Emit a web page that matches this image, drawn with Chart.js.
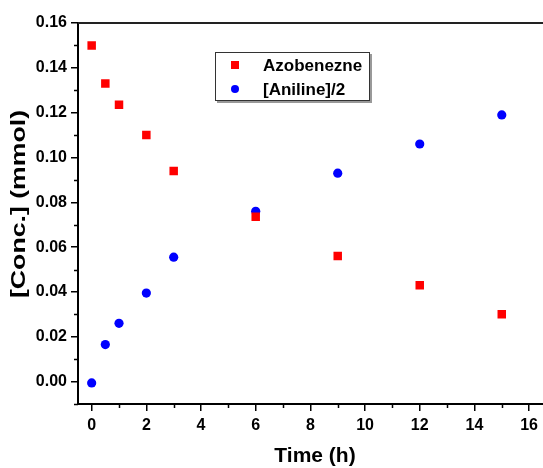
<!DOCTYPE html>
<html>
<head>
<meta charset="utf-8">
<script src="https://cdn.jsdelivr.net/npm/chart.js@4.4.0/dist/chart.umd.min.js"></script>
<style>
html,body{margin:0;padding:0;background:#fff;overflow:hidden;}
#wrap{width:543px;height:468px;position:relative;}
canvas{display:block;}
</style>
</head>
<body>
<div id="wrap"><canvas id="c" width="543" height="468"></canvas></div>
<script>
const timeH = [0, 0.5, 1, 2, 3, 6, 9, 12, 15];
const azobenzene = [0.150, 0.133, 0.1235, 0.110, 0.094, 0.0735, 0.056, 0.043, 0.030];
const aniline2 = [-0.0006, 0.0165, 0.026, 0.0395, 0.0555, 0.076, 0.093, 0.106, 0.119];
const xTicks = [0, 2, 4, 6, 8, 10, 12, 14, 16];
const yTicks = [0, 0.02, 0.04, 0.06, 0.08, 0.10, 0.12, 0.14, 0.16];
const seriesNames = ['Azobenezne', '[Aniline]/2'];
const xTitle = 'Time (h)';
const yTitle = '[Conc.] (mmol)';

const FONT = '"Liberation Sans", Arial, sans-serif';

const extras = {
  id: 'extras',
  afterDraw(chart) {
    const ctx = chart.ctx;
    const xs = chart.scales.x, ys = chart.scales.y;
    const a = chart.chartArea;
    ctx.save();
    // top frame line
    ctx.strokeStyle = '#222';
    ctx.lineWidth = 2;
    ctx.beginPath();
    ctx.moveTo(a.left, a.top);
    ctx.lineTo(543, a.top);
    ctx.stroke();
    // minor ticks
    ctx.strokeStyle = '#000';
    ctx.lineWidth = 1.5;
    ctx.beginPath();
    for (let v = 1; v <= 15; v += 2) {
      const px = Math.round(xs.getPixelForValue(v)) + 0.5;
      ctx.moveTo(px, a.bottom);
      ctx.lineTo(px, a.bottom + 4);
    }
    for (let k = -1; k <= 15; k += 2) {
      const py = Math.round(ys.getPixelForValue(k / 100)) + 0.5;
      ctx.moveTo(a.left, py);
      ctx.lineTo(a.left - 4, py);
    }
    ctx.stroke();
    // y title (stretched along its length)
    ctx.fillStyle = '#000';
    ctx.font = 'bold 21px ' + FONT;
    ctx.textAlign = 'center';
    ctx.textBaseline = 'middle';
    ctx.translate(19, 204);
    ctx.rotate(-Math.PI / 2);
    const w = ctx.measureText(yTitle).width;
    ctx.scale(188 / w, 1);
    ctx.fillText(yTitle, 0, 0);
    ctx.restore();

    // x title
    ctx.save();
    ctx.fillStyle = '#000';
    ctx.font = 'bold 21px ' + FONT;
    ctx.textAlign = 'center';
    ctx.textBaseline = 'middle';
    ctx.fillText(xTitle, 315, 456);
    ctx.restore();

    // legend
    ctx.save();
    const bx = 215, by = 52, bw = 155, bh = 49;
    ctx.fillStyle = '#999';
    ctx.fillRect(bx + 2, by + 2, bw, bh);
    ctx.fillStyle = '#fff';
    ctx.fillRect(bx, by, bw, bh);
    ctx.strokeStyle = '#333';
    ctx.lineWidth = 1;
    ctx.strokeRect(bx + 0.5, by + 0.5, bw - 1, bh - 1);
    const ds = chart.data.datasets;
    const rows = [65, 89];
    ds.forEach((d, i) => {
      const cy = rows[i];
      ctx.fillStyle = d.backgroundColor;
      if (d.pointStyle === 'rect') {
        ctx.fillRect(235 - 4, cy - 4, 8, 8);
      } else {
        ctx.beginPath();
        ctx.arc(235, cy, 4, 0, Math.PI * 2);
        ctx.fill();
      }
      ctx.fillStyle = '#000';
      ctx.font = 'bold 17px ' + FONT;
      ctx.textAlign = 'left';
      ctx.textBaseline = 'middle';
      ctx.fillText(d.label, 263, cy + 1);
    });
    ctx.restore();
  }
};

new Chart(document.getElementById('c'), {
  type: 'scatter',
  data: {
    datasets: [
      {
        label: seriesNames[0],
        data: timeH.map((t, i) => ({x: t, y: azobenzene[i]})),
        pointStyle: 'rect',
        pointRadius: 6,
        pointHoverRadius: 6,
        backgroundColor: '#ff0000',
        borderColor: '#ff0000',
        borderWidth: 0
      },
      {
        label: seriesNames[1],
        data: timeH.map((t, i) => ({x: t, y: aniline2[i]})),
        pointStyle: 'circle',
        pointRadius: 4.6,
        pointHoverRadius: 4.6,
        backgroundColor: '#0000ff',
        borderColor: '#0000ff',
        borderWidth: 0
      }
    ]
  },
  options: {
    responsive: false,
    animation: false,
    devicePixelRatio: 1,
    layout: {autoPadding: false, padding: {top: 23, right: 0, left: 0, bottom: 0}},
    plugins: {legend: {display: false}, tooltip: {enabled: false}},
    scales: {
      x: {
        type: 'linear',
        min: -0.5,
        max: 16.5,
        afterBuildTicks(s) { s.ticks = xTicks.map(v => ({value: v})); },
        afterFit(s) { s.height = 64; },
        border: {display: true, color: '#000', width: 2},
        grid: {display: true, drawOnChartArea: false, drawTicks: true, tickLength: 7, color: '#000', lineWidth: 1.5},
        ticks: {color: '#000', padding: 5, maxRotation: 0, font: {family: FONT, size: 16, weight: 'bold'},
          callback: v => String(v)}
      },
      y: {
        type: 'linear',
        min: -0.01,
        max: 0.16,
        afterBuildTicks(s) { s.ticks = yTicks.map(v => ({value: v})); },
        afterFit(s) { s.width = 78; },
        border: {display: true, color: '#000', width: 2},
        grid: {display: true, drawOnChartArea: false, drawTicks: true, tickLength: 7, color: '#000', lineWidth: 1.5},
        ticks: {color: '#000', padding: 4, font: {family: FONT, size: 16, weight: 'bold'},
          callback: v => Number(v).toFixed(2)}
      }
    }
  },
  plugins: [extras]
});
</script>
</body>
</html>
